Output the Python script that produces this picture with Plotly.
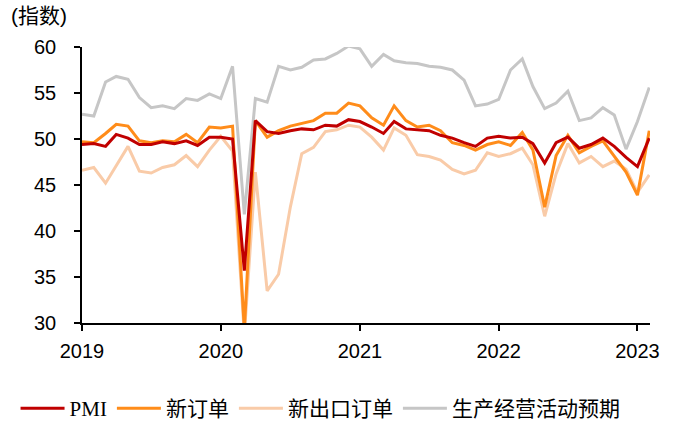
import pandas as pd
import plotly.graph_objects as go

# monthly, Dec 2018 .. Jan 2023
months = pd.date_range("2018-12-01", periods=50, freq="MS")

pmi = [
    49.4, 49.5, 49.2, 50.5, 50.1, 49.4, 49.4, 49.7, 49.5, 49.8, 49.3, 50.2, 50.2,
    50.0, 35.7, 52.0, 50.8, 50.6, 50.9, 51.1, 51.0, 51.5, 51.4, 52.1, 51.9,
    51.3, 50.6, 51.9, 51.1, 51.0, 50.9, 50.4, 50.1, 49.6, 49.2, 50.1, 50.3,
    50.1, 50.2, 49.5, 47.4, 49.6, 50.2, 49.0, 49.4, 50.1, 49.2, 48.0, 47.0,
    50.1,
]
new_orders = [
    49.7, 49.6, 50.6, 51.6, 51.4, 49.8, 49.6, 49.8, 49.7, 50.5, 49.6, 51.3, 51.2,
    51.4, 29.3, 52.0, 50.2, 50.9, 51.4, 51.7, 52.0, 52.8, 52.8, 53.9, 53.6,
    52.3, 51.5, 53.6, 52.0, 51.3, 51.5, 50.9, 49.6, 49.3, 48.8, 49.4, 49.7,
    49.3, 50.7, 48.8, 42.6, 48.2, 50.4, 48.5, 49.2, 49.8, 48.1, 46.4, 43.9,
    50.9,
]
new_export_orders = [
    46.6, 46.9, 45.2, 47.1, 49.2, 46.5, 46.3, 46.9, 47.2, 48.2, 47.0, 48.8, 50.3,
    48.7, 28.7, 46.4, 33.5, 35.3, 42.6, 48.4, 49.1, 50.8, 51.0, 51.5, 51.3,
    50.2, 48.8, 51.2, 50.4, 48.3, 48.1, 47.7, 46.7, 46.2, 46.6, 48.5, 48.1,
    48.4, 49.0, 47.2, 41.6, 46.2, 49.5, 47.4, 48.1, 47.0, 47.6, 46.7, 44.2,
    46.1,
]
expectations = [
    52.7, 52.5, 56.2, 56.8, 56.5, 54.5, 53.4, 53.6, 53.3, 54.4, 54.2, 54.9, 54.4,
    57.9, 41.8, 54.4, 54.0, 57.9, 57.5, 57.8, 58.6, 58.7, 59.3, 60.1, 59.8,
    57.9, 59.2, 58.5, 58.3, 58.2, 57.9, 57.8, 57.5, 56.4, 53.6, 53.8, 54.3,
    57.5, 58.7, 55.7, 53.3, 53.9, 55.2, 52.0, 52.3, 53.4, 52.6, 48.9, 51.9,
    55.6,
]

tick_dates = ["2018-12-01", "2019-12-01", "2020-12-01", "2021-12-01", "2022-12-01"]
tick_text = ["2019", "2020", "2021", "2022", "2023"]

series = [
    ("PMI", pmi, "#C00000"),
    ("新订单", new_orders, "#FF8C1A"),
    ("新出口订单", new_export_orders, "#F9CBA8"),
    ("生产经营活动预期", expectations, "#C6C6C6"),
]

fig = go.Figure()
# draw in reverse so PMI sits on top, keep legend order
for name, values, color in reversed(series):
    fig.add_trace(go.Scatter(x=months, y=values, name=name, mode="lines",
                             line=dict(color=color, width=3)))

axis_font = dict(family="Liberation Sans, Arial, sans-serif", size=20, color="#000")
fig.update_layout(
    template="none",
    width=678, height=424,
    margin=dict(l=82, r=28, t=47, b=101, autoexpand=False),
    plot_bgcolor="white", paper_bgcolor="white",
    showlegend=True,
    legend=dict(orientation="h", traceorder="reversed",
                x=-0.117, xanchor="left", y=-0.31, yanchor="middle",
                font=dict(family="Liberation Serif, Noto Sans CJK SC, serif", size=21, color="#000"),
                itemwidth=44, tracegroupgap=0),
    annotations=[dict(text="(指数)", xref="paper", yref="paper", x=-0.128, y=1.115,
                      xanchor="left", yanchor="middle", showarrow=False,
                      font=dict(family="Liberation Sans, Noto Sans CJK SC, sans-serif", size=21, color="#000"))],
)
fig.update_xaxes(
    range=["2018-12-01", "2023-01-03"],
    tickvals=tick_dates, ticktext=tick_text,
    showline=True, linecolor="#000", linewidth=1.5,
    ticks="outside", ticklen=6, tickcolor="#000", tickwidth=1.5,
    ticklabelstandoff=3,
    showgrid=False, zeroline=False, tickfont=axis_font, automargin=False,
)
fig.update_yaxes(
    range=[30, 60], dtick=5,
    showline=True, linecolor="#000", linewidth=1.5,
    ticks="outside", ticklen=6, tickcolor="#000", tickwidth=1.5,
    ticklabelstandoff=14,
    showgrid=False, zeroline=False, tickfont=axis_font, automargin=False,
)

# page body has a default 8px margin; drop it so the figure fills the window
fig.write_html("out.html", config={"displayModeBar": False},
               post_script="document.body.style.margin='0';")
